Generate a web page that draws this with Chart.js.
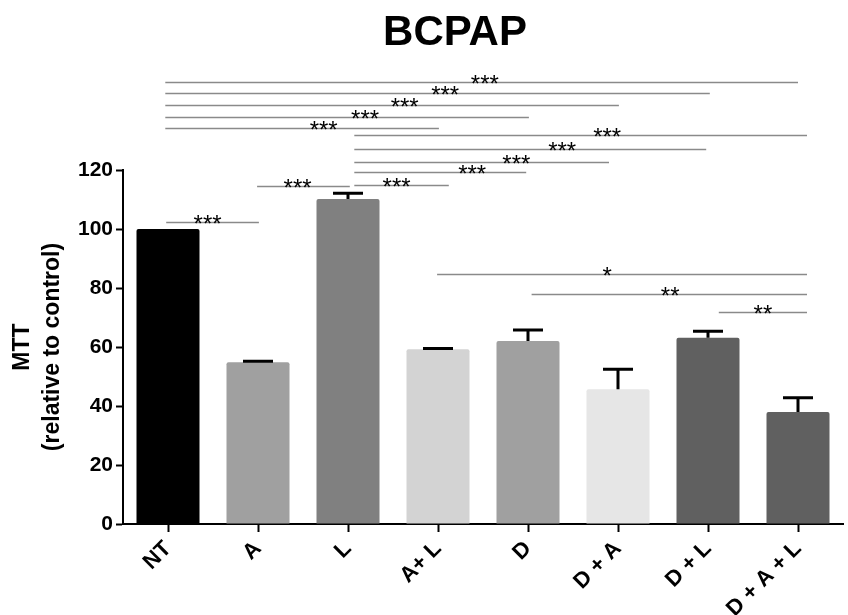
<!DOCTYPE html>
<html>
<head>
<meta charset="utf-8">
<script src="https://cdn.jsdelivr.net/npm/chart.js@4.4.1/dist/chart.umd.min.js"></script>
<style>
  html, body { margin: 0; padding: 0; background: #fff; }
  #wrap { width: 848px; height: 615px; position: relative; }
</style>
</head>
<body>
<div id="wrap"><canvas id="mttChart"></canvas></div>
<script>
const chartTitle = 'BCPAP';
const categories = ['NT', 'A', 'L', 'A+ L', 'D', 'D + A', 'D + L', 'D + A + L'];
const meanValues = [100, 54.8, 110.2, 59.2, 62.0, 45.7, 63.1, 38.0];
const semValues = [0, 0.4, 1.9, 0.3, 3.8, 6.8, 2.2, 4.8];
const yTicks = [0, 20, 40, 60, 80, 100, 120];

// comparisons: [from index, to index, bracket height (y value), stars, label position (index)]
const comparisons = [
  [-0.03, 7.0, 149.9, '***', 3.52],
  [-0.03, 6.02, 146.2, '***', 3.08],
  [-0.03, 5.01, 141.9, '***', 2.63],
  [-0.03, 4.01, 137.9, '***', 2.19],
  [-0.03, 3.01, 134.2, '***', 1.73],
  [2.07, 7.1, 131.9, '***', 4.88],
  [2.07, 5.98, 127.0, '***', 4.38],
  [2.07, 4.9, 122.8, '***', 3.87],
  [2.07, 3.98, 119.2, '***', 3.38],
  [2.07, 3.12, 114.9, '***', 2.54],
  [0.99, 2.02, 114.7, '***', 1.44],
  [-0.02, 1.01, 102.3, '***', 0.44],
  [2.99, 7.1, 84.8, '*', 4.88],
  [4.04, 7.1, 78.0, '**', 5.58],
  [6.12, 7.1, 71.9, '**', 6.61]
];

const barColors = ['#000000', '#a0a0a0', '#808080', '#d3d3d3', '#a0a0a0', '#e6e6e6', '#606060', '#606060'];

Chart.defaults.font.family = "'Liberation Sans', Arial, sans-serif";
Chart.defaults.color = '#000';

const extras = {
  id: 'extras',
  afterDatasetsDraw(chart) {
    const ctx = chart.ctx;
    const x = chart.scales.x;
    const y = chart.scales.y;
    const meta = chart.getDatasetMeta(0);
    ctx.save();

    // error bars (upper only)
    ctx.strokeStyle = '#000';
    ctx.lineWidth = 3;
    meta.data.forEach(function(bar, i) {
      if (!semValues[i]) return;
      const top = y.getPixelForValue(meanValues[i] + semValues[i]);
      const base = y.getPixelForValue(meanValues[i]);
      ctx.beginPath();
      ctx.moveTo(bar.x, base);
      ctx.lineTo(bar.x, top);
      ctx.moveTo(bar.x - 15, top);
      ctx.lineTo(bar.x + 15, top);
      ctx.stroke();
    });

    // significance brackets
    ctx.strokeStyle = '#8a8a8a';
    ctx.lineWidth = 1.5;
    ctx.fillStyle = '#000';
    ctx.font = "24px 'Liberation Sans', Arial, sans-serif";
    ctx.textAlign = 'center';
    ctx.textBaseline = 'alphabetic';
    comparisons.forEach(function(c) {
      const py = Math.round(y.getPixelForValue(c[2])) + 0.5;
      ctx.beginPath();
      ctx.moveTo(x.getPixelForValue(c[0]), py);
      ctx.lineTo(x.getPixelForValue(c[1]), py);
      ctx.stroke();
      ctx.fillText(c[3], x.getPixelForValue(c[4]), py + 9);
    });

    // title
    ctx.font = "bold 42px 'Liberation Sans', Arial, sans-serif";
    ctx.fillText(chartTitle, 455, 45);
    ctx.restore();
  }
};

new Chart(document.getElementById('mttChart'), {
  type: 'bar',
  data: {
    labels: categories,
    datasets: [{
      data: meanValues,
      backgroundColor: barColors,
      borderWidth: 0,
      borderRadius: 2,
      borderSkipped: 'bottom',
      barPercentage: 0.7,
      categoryPercentage: 1
    }]
  },
  options: {
    responsive: true,
    maintainAspectRatio: false,
    animation: false,
    layout: { padding: { top: 170, right: 5, left: 0, bottom: 0 } },
    plugins: {
      legend: { display: false },
      tooltip: { enabled: false }
    },
    scales: {
      x: {
        offset: true,
        afterFit: function(scale) { scale.height = 91; },
        grid: { display: true, drawOnChartArea: false, drawTicks: true, tickLength: 8, tickWidth: 2, color: '#000', offset: false },
        border: { color: '#000', width: 2 },
        ticks: {
          autoSkip: false,
          minRotation: 45,
          maxRotation: 45,
          padding: 4,
          font: { size: 22, weight: 'bold' }
        }
      },
      y: {
        min: 0,
        max: 120,
        afterFit: function(scale) { scale.width = 123; },
        afterBuildTicks: function(scale) { scale.ticks = yTicks.map(v => ({ value: v })); },
        grid: { display: true, drawOnChartArea: false, drawTicks: true, tickLength: 7, tickWidth: 2, color: '#000' },
        border: { color: '#000', width: 2 },
        ticks: { padding: 3, font: { size: 21, weight: 'bold' } },
        title: {
          display: true,
          text: ['MTT', '(relative to control)'],
          font: { size: 23, weight: 'bold', lineHeight: 1.3 },
          padding: { top: 8, bottom: 0 }
        }
      }
    }
  },
  plugins: [extras]
});
</script>
</body>
</html>
